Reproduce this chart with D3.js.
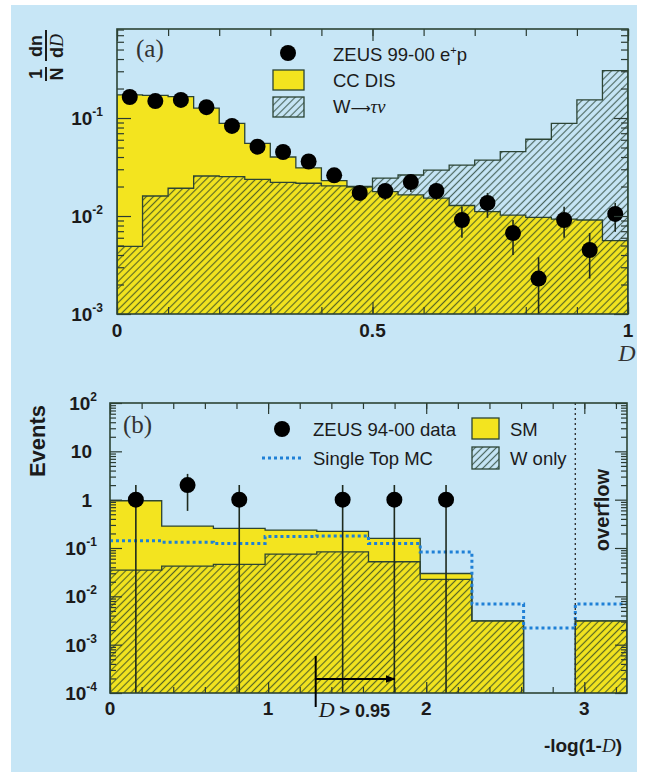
<!DOCTYPE html>
<html lang="en">
<head>
<meta charset="UTF-8">
<title>ZEUS D discriminant</title>
<style>
  body { margin: 0; background: #fff; }
  svg { display: block; }
  .lbl { font-family: "Liberation Sans", Arial, sans-serif; fill: #1b1b1b; }
  .bold { font-weight: bold; }
  .serif { font-family: "Liberation Serif", "Times New Roman", serif; }
  .axis path { display: none; }
  .axis line { stroke: #2b3b33; stroke-width: 1.2; }
</style>
</head>
<body>
<svg id="chart" width="647" height="772"></svg>
<script src="https://d3js.org/d3.v7.min.js"></script>
<script>
// ---- panel (a): 1/N dn/dD in 20 bins of D ----
const edgesA = d3.range(21).map(i => i * 0.05);
const ccDis = [0.172, 0.170, 0.165, 0.126, 0.088, 0.055, 0.040, 0.031, 0.023, 0.0198,
  0.0177, 0.0164, 0.0152, 0.0128, 0.0111, 0.0102, 0.0097, 0.0093, 0.0091, 0.0056];
const wTauNu = [0.0049, 0.016, 0.0192, 0.0256, 0.0252, 0.0237, 0.022, 0.0216, 0.0203, 0.0200,
  0.0244, 0.0262, 0.0294, 0.0331, 0.0372, 0.0453, 0.0607, 0.0883, 0.153, 0.304];
const zeus9900 = [0.164, 0.149, 0.153, 0.129, 0.083, 0.051, 0.045, 0.036, 0.026, 0.0172,
  0.018, 0.0222, 0.018, 0.0091, 0.0136, 0.0067, 0.0023, 0.0091, 0.0045, 0.0105];
const zeus9900Hi = [0.172, 0.157, 0.161, 0.136, 0.089, 0.055, 0.049, 0.039, 0.0294, 0.0203,
  0.0212, 0.0262, 0.0217, 0.0124, 0.0172, 0.0091, 0.0038, 0.0124, 0.0067, 0.0136];
const zeus9900Lo = [0.156, 0.141, 0.145, 0.122, 0.077, 0.047, 0.041, 0.033, 0.0222, 0.0146,
  0.0146, 0.0176, 0.0146, 0.0060, 0.0096, 0.0040, 0.0008, 0.0060, 0.0023, 0.0069];
const xTicksA = [0, 0.5, 1];
const xTickLabelsA = ["0", "0.5", "1"];
const yTickExpA = [-3, -2, -1];

// ---- panel (b): events vs -log(1-D), last bin is overflow ----
const edgesB = [0, 0.327, 0.654, 0.981, 1.308, 1.635, 1.962, 2.289, 2.616, 2.943, 3.27];
const smB = [0.95, 0.284, 0.255, 0.235, 0.22, 0.158, 0.0297, 0.0031, 0, 0.0031];
const wOnlyB = [0.0349, 0.042, 0.046, 0.075, 0.083, 0.052, 0.0224, 0.0031, 0, 0.0031];
const singleTopB = [0.141, 0.132, 0.124, 0.172, 0.178, 0.124, 0.083, 0.0069, 0.0022, 0.0069];
const zeus9400 = [1, 2, 1, 0, 1, 1, 1, 0, 0, 0];
const xTicksB = [0, 1, 2, 3];
const yTickExpB = [-4, -3, -2, -1, 0, 1, 2];
const overflowEdge = 2.943;
const dCut = 0.95;

const yellow = "#f3e41f";
const bg = "#c7e6f6";
const outline = "#2c4434";
const dotBlue = "#1f80d6";

const svg = d3.select("#chart");
svg.append("rect").attr("x", 11).attr("y", 5).attr("width", 626).attr("height", 767).attr("fill", bg);

const defs = svg.append("defs");
const pat = defs.append("pattern").attr("id", "hatch")
  .attr("patternUnits", "userSpaceOnUse").attr("width", 5).attr("height", 5)
  .attr("patternTransform", "rotate(45)");
pat.append("line").attr("x1", 2.5).attr("y1", 0).attr("x2", 2.5).attr("y2", 5)
  .attr("stroke", "#1c3626").attr("stroke-width", 1.2).attr("stroke-opacity", 0.72);

// scales
const xA = d3.scaleLinear().domain([0, 1]).range([117, 628]);
const yA = d3.scaleLog().domain([1e-3, 0.81]).range([314, 29]);
const xB = d3.scaleLinear().domain([0, 3.27]).range([110, 627]);
const yB = d3.scaleLog().domain([1e-4, 100]).range([693, 403]);

function clip(id, x, y) {
  defs.append("clipPath").attr("id", id).append("rect")
    .attr("x", x.range()[0]).attr("y", y.range()[1])
    .attr("width", x.range()[1] - x.range()[0]).attr("height", y.range()[0] - y.range()[1]);
}
clip("clipA", xA, yA);
clip("clipB", xB, yB);

function stepPts(edges, vals) {
  const pts = vals.map((v, i) => [edges[i], v]);
  pts.push([edges[edges.length - 1], vals[vals.length - 1]]);
  return pts;
}
function stepArea(x, y) {
  const floor = y.domain()[0] / 10;
  return d3.area().curve(d3.curveStepAfter)
    .x(d => x(d[0])).y0(y.range()[0] + 2).y1(d => y(Math.max(d[1], floor)));
}
function logTicks(y) {
  const [lo, hi] = y.domain();
  const out = [];
  for (let e = Math.floor(Math.log10(lo)); e <= Math.ceil(Math.log10(hi)); e++) {
    for (let m = 1; m < 10; m++) {
      const v = m * Math.pow(10, e);
      if (v >= lo * 0.999 && v <= hi * 1.001) out.push({ v, major: m === 1 });
    }
  }
  return out;
}
function frame(g, x, y, xMinor, xMajor, yMaj, yMin, xLen) {
  const [x0, x1] = x.range(), [yb, yt] = y.range();
  const lt = logTicks(y);
  const minV = lt.filter(d => !d.major).map(d => d.v), majV = lt.filter(d => d.major).map(d => d.v);
  [[d3.axisBottom, yb], [d3.axisTop, yt]].forEach(([ax, pos]) => {
    g.append("g").attr("class", "axis").attr("transform", `translate(0,${pos})`)
      .call(ax(x).tickValues(xMinor).tickSize(-xLen[0]).tickFormat(""));
    g.append("g").attr("class", "axis").attr("transform", `translate(0,${pos})`)
      .call(ax(x).tickValues(xMajor).tickSize(-xLen[1]).tickFormat(""));
  });
  [[d3.axisLeft, x0], [d3.axisRight, x1]].forEach(([ax, pos]) => {
    g.append("g").attr("class", "axis").attr("transform", `translate(${pos},0)`)
      .call(ax(y).tickValues(minV).tickSize(-yMin).tickFormat(""));
    g.append("g").attr("class", "axis").attr("transform", `translate(${pos},0)`)
      .call(ax(y).tickValues(majV).tickSize(-yMaj).tickFormat(""));
  });
  g.append("rect").attr("x", x0).attr("y", yt).attr("width", x1 - x0).attr("height", yb - yt)
    .attr("fill", "none").attr("stroke", outline).attr("stroke-width", 1.6);
}
function sciLabel(g, x, y, exp, plainX) {
  const t = g.append("text").attr("class", "lbl bold").attr("y", y)
    .attr("text-anchor", "end").style("font-size", "19px");
  if (exp === 0) t.attr("x", plainX).text("1");
  else if (exp === 1) t.attr("x", plainX).text("10");
  else {
    t.attr("x", x);
    t.append("tspan").text("10");
    t.append("tspan").attr("dy", -9).style("font-size", "12px").text(exp);
  }
}

// ================= panel (a) =================
const gA = svg.append("g");
const plotA = gA.append("g").attr("clip-path", "url(#clipA)");
const areaA = stepArea(xA, yA);
plotA.append("path").datum(stepPts(edgesA, ccDis)).attr("d", areaA)
  .attr("fill", yellow).attr("stroke", outline).attr("stroke-width", 1.3);
plotA.append("path").datum(stepPts(edgesA, wTauNu)).attr("d", areaA)
  .attr("fill", "url(#hatch)").attr("stroke", outline).attr("stroke-width", 1.3);

const ptsA = zeus9900.map((v, i) => ({ x: (edgesA[i] + edgesA[i + 1]) / 2, v, hi: zeus9900Hi[i], lo: zeus9900Lo[i] }));
plotA.selectAll(".errA").data(ptsA).enter().append("line")
  .attr("x1", d => xA(d.x)).attr("x2", d => xA(d.x))
  .attr("y1", d => yA(d.hi)).attr("y2", d => yA(Math.max(d.lo, 1e-4)))
  .attr("stroke", "#1e2a1e").attr("stroke-width", 1.6);
plotA.selectAll(".ptA").data(ptsA).enter().append("circle")
  .attr("cx", d => xA(d.x)).attr("cy", d => yA(d.v)).attr("r", 8).attr("fill", "#000");

frame(gA, xA, yA, d3.range(11).map(i => i / 10), xTicksA, 14, 7, [7, 12]);

xTicksA.forEach((t, i) => gA.append("text").attr("class", "lbl bold").attr("x", xA(t)).attr("y", 337)
  .attr("text-anchor", "middle").style("font-size", "19px").text(xTickLabelsA[i]));
yTickExpA.forEach(e => sciLabel(gA, 103, yA(Math.pow(10, e)) + 7, e, 96));

gA.append("text").attr("class", "serif").attr("x", 136).attr("y", 57)
  .style("font-size", "25px").attr("fill", "#333").text("(a)");
gA.append("text").attr("class", "serif").attr("x", 627).attr("y", 361).attr("text-anchor", "middle")
  .style("font-size", "24px").style("font-style", "italic").attr("fill", "#333").text("D");

// y title 1/N dn/dD
const yt = gA.append("g").attr("transform", "translate(46,56) rotate(-90)");
[["1", -18, -4], ["N", -18, 17], ["dn", 10, -4]].forEach(([s, x, y]) =>
  yt.append("text").attr("class", "lbl bold").attr("x", x).attr("y", y).attr("text-anchor", "middle")
    .style("font-size", "18px").text(s));
const dd = yt.append("text").attr("class", "lbl bold").attr("x", 10).attr("y", 17)
  .attr("text-anchor", "middle").style("font-size", "18px");
dd.append("tspan").text("d");
dd.append("tspan").attr("class", "serif").style("font-style", "italic").style("font-weight", "normal").text("D");
yt.append("line").attr("x1", -25).attr("x2", -11).attr("y1", 0).attr("y2", 0).attr("stroke", "#1b1b1b").attr("stroke-width", 2);
yt.append("line").attr("x1", -5).attr("x2", 26).attr("y1", 0).attr("y2", 0).attr("stroke", "#1b1b1b").attr("stroke-width", 2);

// legend (a)
gA.append("circle").attr("cx", 288).attr("cy", 53).attr("r", 8).attr("fill", "#000");
gA.append("rect").attr("x", 273).attr("y", 70).attr("width", 31).attr("height", 20)
  .attr("fill", yellow).attr("stroke", outline).attr("stroke-width", 1.3);
gA.append("rect").attr("x", 273).attr("y", 97).attr("width", 31).attr("height", 20)
  .attr("fill", "url(#hatch)").attr("stroke", outline).attr("stroke-width", 1.3);
const legA = [["ZEUS 99-00 e", "+", "p"], ["CC DIS"], ["W", "\u27f6", "\u03c4\u03bd"]];
legA.forEach((parts, i) => {
  const t = gA.append("text").attr("class", "lbl").attr("x", 333).attr("y", 61 + i * 26).style("font-size", "18.5px");
  t.append("tspan").text(parts[0]);
  if (i === 0) {
    t.append("tspan").attr("dy", -7).style("font-size", "11px").text(parts[1]);
    t.append("tspan").attr("dy", 7).text(parts[2]);
  } else if (i === 2) {
    t.append("tspan").style("font-family", "'DejaVu Sans', sans-serif").style("font-size", "14px").text(parts[1]);
    t.append("tspan").attr("class", "serif").style("font-style", "italic").text(parts[2]);
  }
});

// ================= panel (b) =================
const gB = svg.append("g");
const plotB = gB.append("g").attr("clip-path", "url(#clipB)");
const areaB = stepArea(xB, yB);
plotB.append("path").datum(stepPts(edgesB, smB)).attr("d", areaB)
  .attr("fill", yellow).attr("stroke", outline).attr("stroke-width", 1.3);
plotB.append("path").datum(stepPts(edgesB, wOnlyB)).attr("d", areaB)
  .attr("fill", "url(#hatch)").attr("stroke", outline).attr("stroke-width", 1.3);
plotB.append("path").datum(stepPts(edgesB, singleTopB))
  .attr("d", d3.line().curve(d3.curveStepAfter).x(d => xB(d[0])).y(d => yB(d[1])))
  .attr("fill", "none").attr("stroke", dotBlue).attr("stroke-width", 3).attr("stroke-dasharray", "3,3");
plotB.append("line").attr("x1", xB(overflowEdge)).attr("x2", xB(overflowEdge))
  .attr("y1", yB.range()[1]).attr("y2", yB.range()[0])
  .attr("stroke", "#333").attr("stroke-width", 1.4).attr("stroke-dasharray", "2,3");

const ptsB = zeus9400.map((n, i) => ({ x: (edgesB[i] + edgesB[i + 1]) / 2, n }))
  .filter(d => d.n > 0);
plotB.selectAll(".errB").data(ptsB).enter().append("line")
  .attr("x1", d => xB(d.x)).attr("x2", d => xB(d.x))
  .attr("y1", d => yB(d.n + Math.sqrt(d.n)))
  .attr("y2", d => yB(Math.max(d.n - Math.sqrt(d.n), 1e-6)))
  .attr("stroke", "#1e2a1e").attr("stroke-width", 1.6);
plotB.selectAll(".ptB").data(ptsB).enter().append("circle")
  .attr("cx", d => xB(d.x)).attr("cy", d => yB(d.n)).attr("r", 8).attr("fill", "#000");

frame(gB, xB, yB, d3.range(17).map(i => i * 0.2), xTicksB, 12, 6, [6, 11]);

xTicksB.forEach(t => gB.append("text").attr("class", "lbl bold").attr("x", xB(t)).attr("y", 715)
  .attr("text-anchor", "middle").style("font-size", "19px").text(t));
yTickExpB.forEach(e => sciLabel(gB, 97, yB(Math.pow(10, e)) + 7, e, 92));

gB.append("text").attr("class", "serif").attr("x", 123).attr("y", 433)
  .style("font-size", "25px").attr("fill", "#333").text("(b)");
gB.append("text").attr("class", "lbl bold").attr("transform", "translate(45,441) rotate(-90)")
  .attr("text-anchor", "middle").style("font-size", "22px").text("Events");
gB.append("text").attr("class", "lbl bold").attr("transform", "translate(609,510) rotate(-90)")
  .attr("text-anchor", "middle").style("font-size", "20px").text("overflow");

// x title
const xt = gB.append("text").attr("class", "lbl bold").attr("x", 622).attr("y", 752)
  .attr("text-anchor", "end").style("font-size", "19px");
xt.append("tspan").text("-log(1-");
xt.append("tspan").attr("class", "serif").style("font-style", "italic").style("font-weight", "normal").text("D");
xt.append("tspan").text(")");

// D > 0.95 arrow
const xCut = xB(-Math.log10(1 - dCut));
defs.append("marker").attr("id", "arr").attr("viewBox", "0 0 10 10").attr("refX", 9).attr("refY", 5)
  .attr("markerWidth", 5).attr("markerHeight", 5).attr("orient", "auto")
  .append("path").attr("d", "M0,1 L10,5 L0,9 z").attr("fill", "#000");
gB.append("line").attr("x1", xCut).attr("x2", xCut).attr("y1", 656).attr("y2", 707)
  .attr("stroke", "#000").attr("stroke-width", 2);
gB.append("line").attr("x1", xCut).attr("x2", xB(1.8)).attr("y1", 679).attr("y2", 679)
  .attr("stroke", "#000").attr("stroke-width", 2).attr("marker-end", "url(#arr)");
const ct = gB.append("text").attr("class", "lbl bold").attr("x", xCut + 3).attr("y", 717).style("font-size", "18px");
ct.append("tspan").attr("class", "serif").style("font-style", "italic").style("font-weight", "normal")
  .style("font-size", "22px").text("D");
ct.append("tspan").text(" > " + dCut);

// legend (b)
gB.append("circle").attr("cx", 282).attr("cy", 429).attr("r", 8).attr("fill", "#000");
gB.append("line").attr("x1", 262).attr("x2", 302).attr("y1", 458).attr("y2", 458)
  .attr("stroke", dotBlue).attr("stroke-width", 3).attr("stroke-dasharray", "3,3");
gB.append("rect").attr("x", 472).attr("y", 418).attr("width", 27).attr("height", 21)
  .attr("fill", yellow).attr("stroke", outline).attr("stroke-width", 1.3);
gB.append("rect").attr("x", 472).attr("y", 447).attr("width", 27).attr("height", 22)
  .attr("fill", "url(#hatch)").attr("stroke", outline).attr("stroke-width", 1.3);
[["ZEUS 94-00 data", 313, 436], ["Single Top MC", 313, 465], ["SM", 510, 436], ["W only", 510, 465]]
  .forEach(([s, x, y]) => gB.append("text").attr("class", "lbl").attr("x", x).attr("y", y)
    .style("font-size", "18.5px").text(s));
</script>
</body>
</html>
